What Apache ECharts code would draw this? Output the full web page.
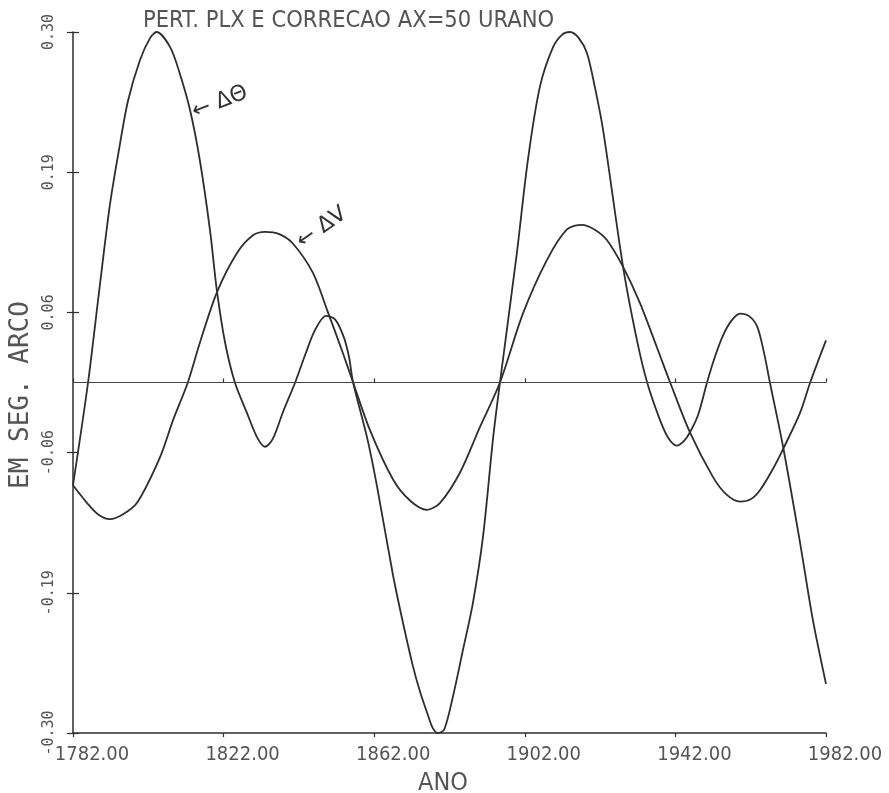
<!DOCTYPE html>
<html><head><meta charset="utf-8">
<script src="https://cdn.jsdelivr.net/npm/echarts@6/dist/echarts.min.js"></script>
<style>html,body{margin:0;padding:0;background:#fff}#c{width:889px;height:793px}</style>
</head><body><div id="c"></div>
<script>
const titleText = 'PERT. PLX E CORRECAO AX=50 URANO';
const xAxisName = 'ANO';
const yAxisName = 'EM SEG. ARCO';
const xMin = 1782, xMax = 1982, xStep = 40;
const yMin = -0.30, yMax = 0.30, yStep = 0.12;
const yTickLabels = ['-0.30', '-0.19', '-0.06', '0.06', '0.19', '0.30'];

const thetaName = 'ΔΘ';
const thetaYears = [1782.0, 1786.0, 1788.9, 1791.8, 1794.2, 1796.6, 1799.8, 1802.5, 1804.2, 1807.8, 1810.5, 1813.1, 1815.7, 1818.4, 1820.2, 1822.4, 1825.0, 1828.2, 1830.9, 1833.0, 1835.1, 1837.8, 1841.0, 1843.7, 1846.3, 1849.2, 1851.6, 1853.9, 1855.3, 1856.4, 1860.1, 1862.7, 1867.0, 1869.6, 1872.3, 1874.2, 1876.3, 1877.6, 1879.0, 1880.6, 1882.9, 1885.5, 1888.2, 1890.9, 1893.6, 1895.4, 1899.9, 1902.8, 1906.0, 1909.5, 1912.0, 1914.0, 1916.3, 1918.5, 1920.6, 1922.8, 1928.1, 1931.8, 1934.5, 1937.9, 1940.2, 1942.4, 1944.3, 1945.8, 1948.0, 1950.4, 1952.5, 1954.6, 1956.9, 1959.2, 1961.5, 1963.7, 1965.5, 1967.1, 1970.6, 1975.1, 1978.5, 1982.0];
const thetaValues = [-0.088, 0.000, 0.077, 0.152, 0.199, 0.241, 0.276, 0.295, 0.300, 0.287, 0.263, 0.233, 0.190, 0.130, 0.079, 0.034, 0.000, -0.026, -0.047, -0.055, -0.048, -0.025, 0.000, 0.024, 0.045, 0.057, 0.054, 0.039, 0.022, 0.000, -0.047, -0.088, -0.165, -0.205, -0.243, -0.265, -0.285, -0.296, -0.300, -0.297, -0.269, -0.230, -0.189, -0.132, -0.047, 0.000, 0.111, 0.190, 0.253, 0.287, 0.298, 0.300, 0.295, 0.282, 0.253, 0.216, 0.099, 0.036, 0.000, -0.032, -0.048, -0.054, -0.050, -0.043, -0.028, 0.000, 0.022, 0.040, 0.053, 0.059, 0.057, 0.048, 0.026, 0.000, -0.055, -0.137, -0.203, -0.258];

const dvName = 'ΔV';
const dvYears = [1782.0, 1785.7, 1788.7, 1791.8, 1795.2, 1799.0, 1805.1, 1808.6, 1812.5, 1815.7, 1820.2, 1825.6, 1829.8, 1833.0, 1836.8, 1840.4, 1845.7, 1849.5, 1853.7, 1856.4, 1860.9, 1867.0, 1871.5, 1876.0, 1879.5, 1884.8, 1890.1, 1895.4, 1901.5, 1907.9, 1913.2, 1917.2, 1920.5, 1923.8, 1928.1, 1932.6, 1937.1, 1940.6, 1945.9, 1952.0, 1955.6, 1959.2, 1962.0, 1964.5, 1967.9, 1970.6, 1975.1, 1977.8, 1982.0];
const dvValues = [-0.088, -0.103, -0.113, -0.117, -0.113, -0.103, -0.064, -0.032, 0.000, 0.034, 0.077, 0.111, 0.126, 0.129, 0.127, 0.119, 0.094, 0.062, 0.025, 0.000, -0.041, -0.083, -0.101, -0.109, -0.103, -0.077, -0.038, 0.000, 0.059, 0.105, 0.131, 0.135, 0.131, 0.122, 0.099, 0.068, 0.030, 0.000, -0.043, -0.081, -0.096, -0.102, -0.100, -0.092, -0.074, -0.057, -0.026, 0.000, 0.036];

// annotation anchors (points on the curves where the hand-drawn arrows point)
const thetaNote = { text: '← ΔΘ', at: [1813.3, 0.231], angle: 21 };
const dvNote = { text: '← ΔV', at: [1841.5, 0.119], angle: 35 };

const pairs = (xs, ys) => xs.map((x, i) => [x, ys[i]]);

const inkText = '#555';
const inkLine = '#2e2e2e';
const narrow = "'Liberation Sans Narrow', 'DejaVu Sans Condensed', 'DejaVu Sans Mono', sans-serif";
const mono = "'DejaVu Sans Mono', 'Liberation Mono', monospace";

const chart = echarts.init(document.getElementById('c'), null, { renderer: 'canvas' });

const baseX = {
  type: 'value', min: xMin, max: xMax, interval: xStep, position: 'bottom',
  splitLine: { show: false },
  axisLine: { show: true, onZero: false, lineStyle: { color: inkLine, width: 1.5 } }
};
const baseY = {
  type: 'value', min: yMin, max: yMax, interval: yStep, position: 'left',
  splitLine: { show: false },
  axisLine: { show: true, onZero: false, lineStyle: { color: inkLine, width: 1.5 } }
};

chart.setOption({
  animation: false,
  backgroundColor: '#ffffff',
  title: {
    text: titleText, left: 138, top: 4,
    textStyle: { fontFamily: narrow, fontSize: 23.5, fontWeight: 'normal', color: inkText }
  },
  grid: { left: 73, right: 63, top: 32, bottom: 60, containLabel: false, outerBoundsMode: 'none' },
  xAxis: [
    Object.assign({}, baseX, {
      name: xAxisName, nameLocation: 'middle', nameGap: 38,
      nameTextStyle: { fontFamily: narrow, fontSize: 25, color: inkText, padding: [0, 13, 0, 0] },
      axisTick: { show: true, inside: false, length: 4, lineStyle: { color: inkLine, width: 1.2 } },
      axisLabel: {
        show: true, margin: 12, showMinLabel: true, showMaxLabel: true,
        fontFamily: narrow, fontSize: 20, color: inkText, padding: [0, 0, 0, 38],
        formatter: v => v.toFixed(2)
      }
    }),
    Object.assign({}, baseX, {
      axisLine: { show: false },
      axisTick: { show: true, inside: true, length: 4, lineStyle: { color: inkLine, width: 1.2 } },
      axisLabel: { show: false }
    })
  ],
  yAxis: [
    Object.assign({}, baseY, {
      name: yAxisName, nameLocation: 'middle', nameGap: 35, nameRotate: 90,
      nameTextStyle: { fontFamily: mono, fontSize: 26, color: inkText, padding: [0, 25, 0, 0] },
      axisTick: { show: true, inside: false, length: 6, lineStyle: { color: inkLine, width: 1.2 } },
      axisLabel: {
        show: true, rotate: 90, margin: 16, showMinLabel: true, showMaxLabel: true,
        fontFamily: mono, fontSize: 15, color: inkText,
        formatter: (v, i) => yTickLabels[i]
      }
    }),
    Object.assign({}, baseY, {
      axisLine: { show: false },
      axisTick: { show: true, inside: true, length: 6, lineStyle: { color: inkLine, width: 1.2 } },
      axisLabel: { show: false }
    })
  ],
  series: [
    {
      name: thetaName, type: 'line', xAxisIndex: 0, yAxisIndex: 0,
      data: pairs(thetaYears, thetaValues), smooth: 0.3, showSymbol: false,
      lineStyle: { color: inkLine, width: 1.8 },
      markLine: {
        silent: true, symbol: ['none', 'none'], label: { show: false },
        lineStyle: { color: '#444', width: 1.2, type: 'solid' },
        data: [{ yAxis: 0 }]
      }
    },
    {
      name: dvName, type: 'line', xAxisIndex: 0, yAxisIndex: 0,
      data: pairs(dvYears, dvValues), smooth: 0.3, showSymbol: false,
      lineStyle: { color: inkLine, width: 1.8 }
    }
  ]
});

function noteGraphic(note) {
  const p = chart.convertToPixel({ xAxisIndex: 0, yAxisIndex: 0 }, note.at);
  return {
    type: 'text', x: p[0] + 2, y: p[1], rotation: note.angle * Math.PI / 180,
    style: {
      text: note.text, fill: '#333',
      font: "22px 'DejaVu Sans', sans-serif",
      align: 'left', verticalAlign: 'middle', textAlign: 'left', textVerticalAlign: 'middle'
    }
  };
}
chart.setOption({ graphic: [noteGraphic(thetaNote), noteGraphic(dvNote)] });
</script></body></html>
